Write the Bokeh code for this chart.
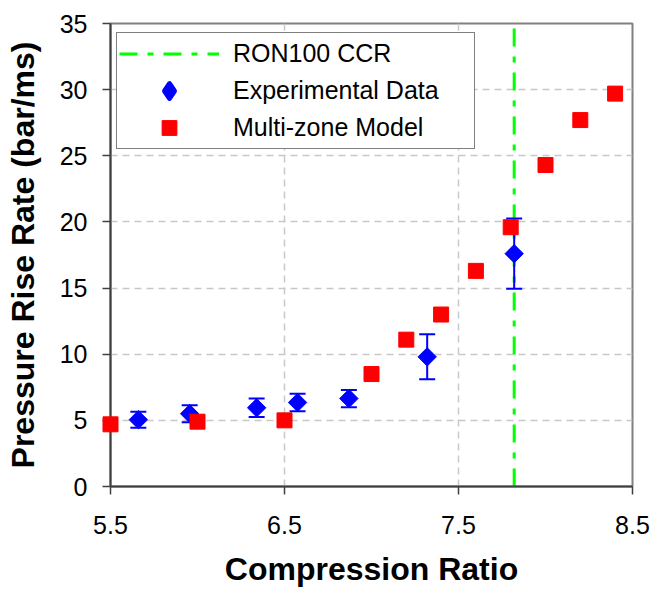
import numpy as np
from bokeh.plotting import figure
from bokeh.models import ColumnDataSource, Range1d, FixedTicker, Legend, LegendItem
from bokeh.embed import file_html
from bokeh.resources import INLINE

# ---- data ----
model_cr = [5.5, 6.0, 6.5, 7.0, 7.2, 7.4, 7.6, 7.8, 8.0, 8.2, 8.4]
model_prr = [4.7, 4.9, 5.0, 8.5, 11.1, 13.0, 16.3, 19.6, 24.3, 27.7, 29.7]

exp_cr = [5.66, 5.955, 6.34, 6.575, 6.87, 7.32, 7.82]
exp_prr = [5.05, 5.5, 5.95, 6.35, 6.65, 9.8, 17.6]
exp_err = [0.6, 0.65, 0.7, 0.67, 0.65, 1.7, 2.65]

ccr_ron100 = 7.82

x_ticks = [5.5, 6.5, 7.5, 8.5]
y_ticks = [0, 5, 10, 15, 20, 25, 30, 35]
X_MIN, X_MAX = 5.5, 8.5
Y_MIN, Y_MAX = 0, 35

FONT = "Liberation Sans"

p = figure(width=652, height=589, output_backend="svg", toolbar_location=None,
           x_range=Range1d(X_MIN, X_MAX), y_range=Range1d(Y_MIN, Y_MAX),
           min_border_left=110, min_border_right=20, min_border_top=23,
           min_border_bottom=103)
p.background_fill_color = "white"
p.border_fill_color = "white"
p.outline_line_color = "#808080"
p.outline_line_width = 2

# grids
p.xgrid.ticker = FixedTicker(ticks=x_ticks)
p.ygrid.ticker = FixedTicker(ticks=y_ticks)
for g in (p.xgrid, p.ygrid):
    g.grid_line_color = "#c8c8c8"
    g.grid_line_dash = "7 5"
    g.grid_line_width = 1.5

# axes
p.xaxis.ticker = FixedTicker(ticks=x_ticks)
p.yaxis.ticker = FixedTicker(ticks=y_ticks)
p.xaxis.axis_label = "Compression Ratio"
p.yaxis.axis_label = "Pressure Rise Rate (bar/ms)"
for ax in (p.xaxis[0], p.yaxis[0]):
    ax.axis_line_color = "#404040"
    ax.axis_line_width = 2
    ax.major_tick_line_color = "#404040"
    ax.major_tick_line_width = 1.5
    ax.major_tick_out = 8
    ax.major_tick_in = 0
    ax.minor_tick_line_color = None
    ax.major_label_text_font = FONT
    ax.major_label_text_font_size = "25px"
    ax.major_label_text_color = "black"
    ax.axis_label_text_font = FONT
    ax.axis_label_text_font_size = "32px"
    ax.axis_label_text_font_style = "bold"
    ax.axis_label_text_color = "black"
p.xaxis.major_label_standoff = 21
p.xaxis.axis_label_standoff = 14
p.yaxis.major_label_standoff = 15
p.yaxis.axis_label_standoff = 16

# vertical CCR line
ccr_src = ColumnDataSource(dict(x=[ccr_ron100, ccr_ron100], y=[Y_MIN, Y_MAX]))
r_ccr = p.line("x", "y", source=ccr_src, line_color="#00ff00", line_width=3,
               line_dash="18 10 6 10")

# error bars
exp_src = ColumnDataSource(dict(
    x=exp_cr, y=exp_prr,
    lo=[v - e for v, e in zip(exp_prr, exp_err)],
    hi=[v + e for v, e in zip(exp_prr, exp_err)],
))
p.segment(x0="x", y0="lo", x1="x", y1="hi", source=exp_src,
          line_color="#0000ff", line_width=2)
p.scatter("x", "lo", source=exp_src, marker="dash", size=16,
          line_color="#0000ff", line_width=2)
p.scatter("x", "hi", source=exp_src, marker="dash", size=16,
          line_color="#0000ff", line_width=2)

# diamond renderer used for the legend swatch (hidden under the rotated squares)
r_exp_leg = p.scatter("x", "y", source=exp_src, marker="diamond", size=9,
                      fill_color="#0000ff", line_color="#0000ff", line_width=5,
                      line_join="round")
p.scatter("x", "y", source=exp_src, marker="square", angle=np.pi / 4,
          size=13, fill_color="#0000ff", line_color="#0000ff")

model_src = ColumnDataSource(dict(x=model_cr, y=model_prr))
r_model = p.scatter("x", "y", source=model_src, marker="square", size=15,
                    fill_color="#ff0000", line_color="#ff0000",
                    level="annotation")

legend = Legend(items=[
    LegendItem(label="RON100 CCR", renderers=[r_ccr]),
    LegendItem(label="Experimental Data", renderers=[r_exp_leg]),
    LegendItem(label="Multi-zone Model", renderers=[r_model]),
], location=(6, 337))
legend.margin = 0
legend.padding = 2
legend.spacing = 0
legend.glyph_width = 100
legend.glyph_height = 37
legend.label_height = 37
legend.label_width = 239
legend.label_standoff = 14
legend.label_text_font = FONT
legend.label_text_font_size = "25px"
legend.label_text_color = "black"
legend.border_line_color = "black"
legend.border_line_width = 1.5
legend.background_fill_color = "white"
legend.background_fill_alpha = 1.0
p.add_layout(legend, "center")

open("out.html", "w").write(file_html(p, INLINE))
